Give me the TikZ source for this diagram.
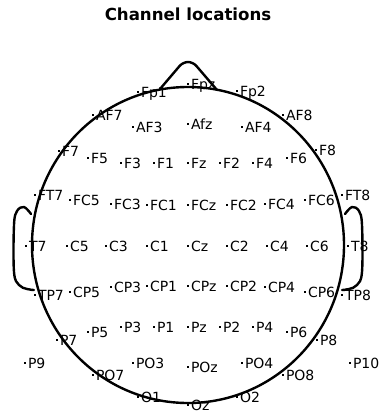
\documentclass[tikz,border=0pt]{standalone}
\usepackage{fontspec}
\setmainfont{DejaVu Sans}
\begin{document}
\begin{tikzpicture}[x=1pt,y=-1pt,
  headline/.style={line width=2.4pt,line join=round,line cap=round},
  elec/.style={rectangle,fill=black,inner sep=0pt,minimum size=2.8pt},
  lbl/.style={inner sep=0pt,font=\fontsize{14}{15}\selectfont,text height=10.2pt,text depth=0pt},
  every label/.style={label distance=1.2pt},
  titlestyle/.style={anchor=base,inner sep=0pt,font=\fontsize{16.6}{18}\selectfont\bfseries}]
\useasboundingbox (0,0) rectangle (383,414);
\fill[white] (0,0) rectangle (383,414);
\newcommand\chan[2]{\node[elec,label={[lbl]right:#1}] (#1) at (#2) {};}
\node[titlestyle] (title) at (188,21) {Channel locations};
% head
\draw[headline] (188,245) ellipse [x radius=156, y radius=158];
\draw[headline,rounded corners=5pt] (160,89) -- (183,62) -- (193,62) -- (217,90);
\draw[headline] plot[smooth,tension=0.6] coordinates {(31,214) (24,207) (17,211) (14,225) (14,272) (19,285) (27,289) (34,290)};
\draw[headline] plot[smooth,tension=0.6] coordinates {(345,214) (352,207) (359,211) (362,225) (362,272) (357,285) (349,289) (342,290)};
% electrodes
\chan{Fp1}{138,92}
\chan{Fpz}{188,84}
\chan{Fp2}{237,91}
\chan{AF7}{93,115}
\chan{AF3}{133,127}
\chan{Afz}{188,124}
\chan{AF4}{242,127}
\chan{AF8}{283,115}
\chan{F7}{59,151}
\chan{F5}{88,158}
\chan{F3}{121,163}
\chan{F1}{154,163}
\chan{Fz}{188,163}
\chan{F2}{220,163}
\chan{F4}{253,163}
\chan{F6}{287,158}
\chan{F8}{316,150}
\chan{FT7}{35,195}
\chan{FC5}{70,200}
\chan{FC3}{111,204}
\chan{FC1}{147,205}
\chan{FCz}{188,205}
\chan{FC2}{227,205}
\chan{FC4}{265,204}
\chan{FC6}{305,200}
\chan{FT8}{342,195}
\chan{T7}{26,246}
\chan{C5}{67,246}
\chan{C3}{106,246}
\chan{C1}{147,246}
\chan{Cz}{188,246}
\chan{C2}{227,246}
\chan{C4}{267,246}
\chan{C6}{307,246}
\chan{T8}{348,246}
\chan{TP7}{35,295}
\chan{CP5}{70,292}
\chan{CP3}{111,287}
\chan{CP1}{147,286}
\chan{CPz}{188,286}
\chan{CP2}{227,286}
\chan{CP4}{265,287}
\chan{CP6}{305,292}
\chan{TP8}{342,295}
\chan{P7}{57,340}
\chan{P5}{88,332}
\chan{P3}{121,327}
\chan{P1}{154,327}
\chan{Pz}{188,327}
\chan{P2}{220,327}
\chan{P4}{253,327}
\chan{P6}{287,332}
\chan{P8}{317,340}
\chan{P9}{25,363}
\chan{PO7}{93,375}
\chan{PO3}{133,363}
\chan{POz}{188,367}
\chan{PO4}{242,363}
\chan{PO8}{283,375}
\chan{P10}{350,363}
\chan{O1}{138,397}
\chan{Oz}{188,405}
\chan{O2}{237,397}
\end{tikzpicture}
\end{document}
